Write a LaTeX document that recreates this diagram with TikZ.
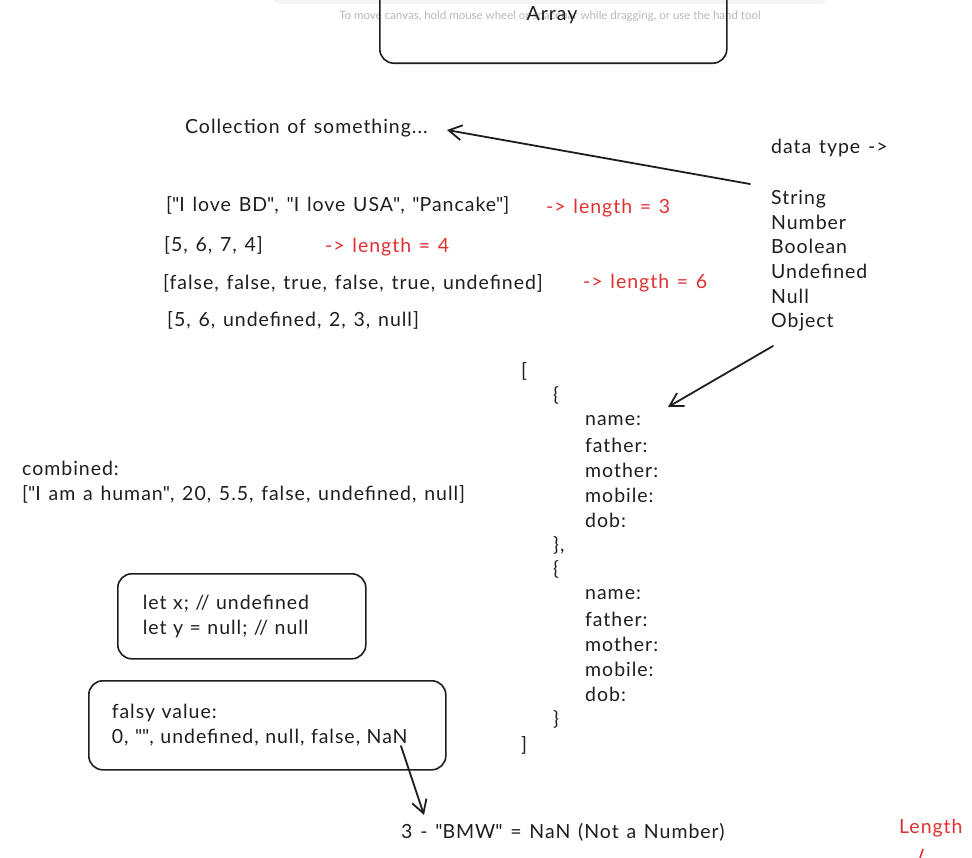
\documentclass[tikz,border=0pt]{standalone}
\usepackage{fontspec}
\setmainfont{Lato}[LetterSpace=5, WordSpace=1.3]
\newfontfamily\hintfont{Lato}
\usetikzlibrary{positioning, arrows.meta, calc}
\definecolor{ink}{HTML}{1E1E1E}
\definecolor{redink}{HTML}{E03131}
\definecolor{hintgray}{HTML}{B8B8B8}
\newcommand{\qq}{\textquotedbl}

\begin{document}
\begin{tikzpicture}[
  x=1pt, y=-1pt,
  >={Straight Barb[length=13pt,width=15pt]},
  every node/.style={font=\fontsize{19.5}{24.7}\selectfont, text=ink, inner sep=0pt, anchor=west},
  note/.style={text=redink},
  sketchbox/.style={draw=ink, line width=1.6pt, rounded corners=14pt},
  pointer/.style={->, draw=ink, line width=1.8pt, line cap=round}
]
\useasboundingbox (0,0) rectangle (972,857);
\clip (0,0) rectangle (972,857);

% Toolbar shadow and hint
\fill[black!4, rounded corners=8pt] (272,-20) rectangle (828,4);
\node[font=\hintfont\fontsize{11.5}{14}\selectfont, text=hintgray, anchor=center] (hint) at (550,16)
  {To move canvas, hold mouse wheel or spacebar while dragging, or use the hand tool};

% Array title box
\node[sketchbox, anchor=south west, minimum width=347pt, minimum height=110pt] (arraybox) at (379,64) {};
\node[anchor=center] (arraytitle) at (552,15) {Array};

% Collection heading
\node (coll) at (185,128) {Collection of something...};

% Data types
\node (dtype) at (771,148) {data type ->};
\node[align=left, anchor=north west] (types) at (771,190)
  {String\\Number\\Boolean\\Undefined\\Null\\Object};

% Sample arrays
\node (arrstr) at (166,205) {[\qq I love BD\qq, \qq I love USA\qq, \qq Pancake\qq]};
\node[note] (lenstr) at (546,208) {-> length = 3};
\node (arrnum) at (164,245) {[5, 6, 7, 4]};
\node[note] (lennum) at (325,247) {-> length = 4};
\node (arrbool) at (163,283) {[false, false, true, false, true, undefined]};
\node[note] (lenbool) at (583,283) {-> length = 6};
\node (arrmix) at (167,320) {[5, 6, undefined, 2, 3, null]};

% Combined
\node[align=left, anchor=north west] (combined) at (22,461)
  {combined:\\{}[\qq I am a human\qq, 20, 5.5, false, undefined, null]};

% Boxes
\node[sketchbox, anchor=north west, minimum width=248pt, minimum height=85pt,
  text width=198pt, inner xsep=25pt, align=left] (varsbox) at (117,573)
  {let x; // undefined\\let y = null; // null};
\node[sketchbox, anchor=north west, minimum width=357pt, minimum height=89pt,
  text width=311pt, inner xsep=23pt, align=left] (falsybox) at (88,680)
  {falsy value:\\0, \qq\qq, undefined, null, false, NaN};

\node (bmw) at (401,832) {3 - \qq BMW\qq{} = NaN (Not a Number)};

% Array of objects
\node (jsonopen) at (521,371) {[};
\node (objone) at (553,395) {\{};
\foreach \k [count=\i] in {name, father, mother, mobile, dob}
  \node (keya-\i) at (585,396+24.8*\i) {\k:};
\node (objoneend) at (553,545) {\},};
\node (objtwo) at (553,569) {\{};
\foreach \k [count=\i] in {name, father, mother, mobile, dob}
  \node (keyb-\i) at (585,570+24.8*\i) {\k:};
\node (objtwoend) at (553,719) {\}};
\node (jsonclose) at (521,745) {]};

% Stray label
\node[note] (lenword) at (899,828) {Length};
\coordinate (ticktop) at (923,849);
\coordinate (tickbot) at (920,858);
\draw[redink, line width=1.6pt] (ticktop) -- (tickbot);

% Connectors
\coordinate (typesin) at (750,184);
\coordinate (collend) at (447,130);
\draw[pointer] (typesin) -- (collend);
\coordinate (typesout) at (773,346);
\coordinate (jsonin) at (668,407);
\draw[pointer] (typesout) -- (jsonin);
\coordinate (nanout) at (401,746);
\coordinate (bmwin) at (424,815);
\draw[pointer] (nanout) -- (bmwin);
\end{tikzpicture}
\end{document}
